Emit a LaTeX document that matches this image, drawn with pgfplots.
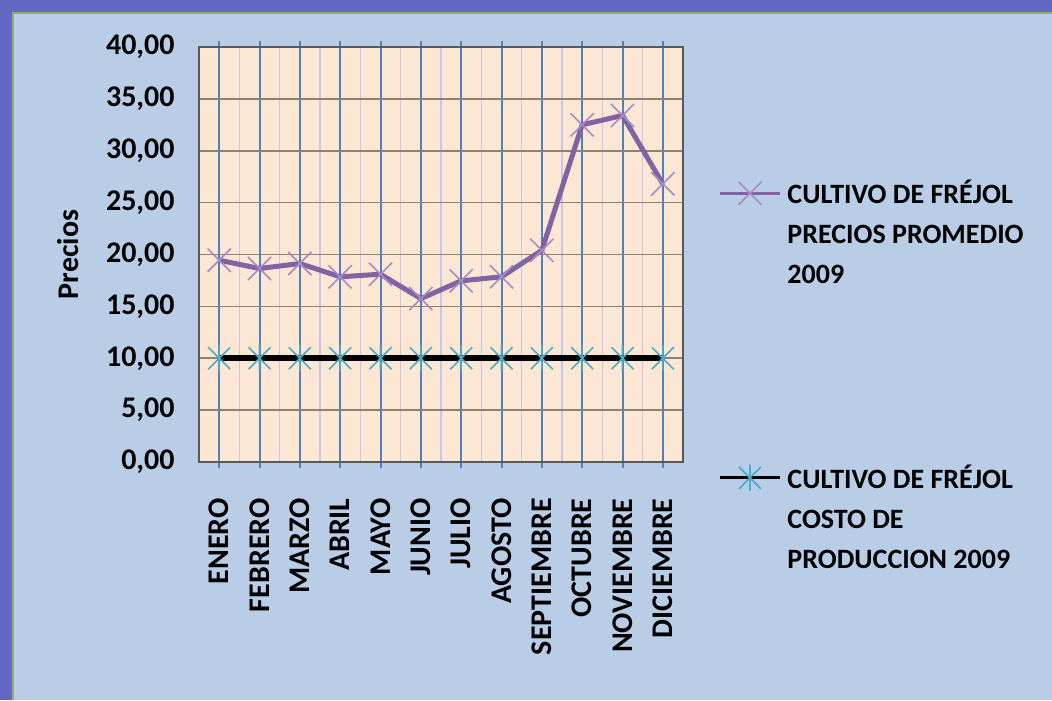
\documentclass[border=0pt]{standalone}
\usepackage{fontspec}
\setmainfont{Carlito}
\usepackage{pgfplots}
\pgfplotsset{compat=1.18}
\definecolor{bgdark}{HTML}{6466C4}
\definecolor{bglight}{HTML}{BACDE7}
\definecolor{bgedge}{HTML}{8CB070}
\definecolor{plotbg}{HTML}{FCE6D4}
\definecolor{majgrid}{HTML}{4F81BD}
\definecolor{mingrid}{HTML}{C4C4EC}
\definecolor{hgrid}{HTML}{8A8275}
\definecolor{purp}{HTML}{8064A2}
\definecolor{purpmark}{HTML}{A58CC6}
\definecolor{cyanm}{HTML}{4BACC6}
\pgfdeclareplotmark{xx}{%
  \pgfpathmoveto{\pgfqpoint{-\pgfplotmarksize}{-\pgfplotmarksize}}%
  \pgfpathlineto{\pgfqpoint{\pgfplotmarksize}{\pgfplotmarksize}}%
  \pgfpathmoveto{\pgfqpoint{-\pgfplotmarksize}{\pgfplotmarksize}}%
  \pgfpathlineto{\pgfqpoint{\pgfplotmarksize}{-\pgfplotmarksize}}%
  \pgfusepathqstroke}
\pgfdeclareplotmark{xstar}{%
  \pgfpathmoveto{\pgfqpoint{-\pgfplotmarksize}{-\pgfplotmarksize}}%
  \pgfpathlineto{\pgfqpoint{\pgfplotmarksize}{\pgfplotmarksize}}%
  \pgfpathmoveto{\pgfqpoint{-\pgfplotmarksize}{\pgfplotmarksize}}%
  \pgfpathlineto{\pgfqpoint{\pgfplotmarksize}{-\pgfplotmarksize}}%
  \pgfpathmoveto{\pgfqpoint{0pt}{-1.2\pgfplotmarksize}}%
  \pgfpathlineto{\pgfqpoint{0pt}{1.2\pgfplotmarksize}}%
  \pgfusepathqstroke}
\begin{document}
\begin{tikzpicture}
\useasboundingbox (0,0) rectangle (526pt,350pt);
\fill[bgdark] (0,0) rectangle (526pt,350pt);
\fill[bglight] (6pt,0) rectangle (526pt,344pt);
\draw[bgedge, line width=0.8pt] (6.4pt,0) -- (6.4pt,343.6pt) -- (526pt,343.6pt);
\begin{axis}[
  at={(99.5pt,119pt)}, anchor=south west,
  scale only axis, width=242pt, height=207.5pt,
  xmin=-0.5, xmax=11.5, ymin=0, ymax=40,
  axis background/.style={fill=plotbg},
  axis line style={draw=gray!70!black, line width=0.6pt},
  xtick={0,...,11},
  xticklabels={ENERO,FEBRERO,MARZO,ABRIL,MAYO,JUNIO,JULIO,AGOSTO,SEPTIEMBRE,OCTUBRE,NOVIEMBRE,DICIEMBRE},
  minor xtick={0.5,1.5,...,10.5},
  ytick={0,5,...,40},
  xmajorgrids, xminorgrids, ymajorgrids,
  major x grid style={draw=majgrid, line width=1pt},
  minor x grid style={draw=mingrid, line width=0.8pt},
  major y grid style={draw=hgrid, line width=0.8pt},
  tick align=outside,
  major tick length=3pt, minor tick length=0pt,
  xtick style={draw=majgrid, line width=1pt},
  ytick style={draw=none},
  xticklabel style={font=\fontsize{15}{18}\selectfont\bfseries, yshift=-15pt, rotate=90, anchor=east, inner sep=0pt},
  yticklabel style={font=\fontsize{15}{18}\selectfont\bfseries, anchor=east, inner sep=0pt, xshift=-9pt},
  ylabel={Precios},
  every axis y label/.style={at={(axis description cs:-0.27,0.5)}, rotate=90, anchor=center, font=\fontsize{15}{18}\selectfont\bfseries},
  /pgf/number format/.cd, fixed, fixed zerofill, precision=2, use comma, assume math mode=true,
  /pgfplots/.cd,
  legend style={at={(1.06,0.69)}, anchor=north west, draw=none, fill=none,
    font=\fontsize{14}{20}\selectfont\bfseries, row sep=129pt, column sep=3pt,
    nodes={inner sep=0pt}},
  legend cell align=left,
  legend image code/.code={\draw[mark repeat=2, mark phase=2, #1, line width=1.5pt] plot coordinates {(0pt,0pt) (15pt,0pt) (30pt,0pt)};},
]
\addplot[purp, line width=2.5pt, mark=xx, mark size=5.8pt, mark options={draw=purpmark, line width=0.8pt, solid}]
coordinates {(0,19.45) (1,18.65) (2,19.13) (3,17.85) (4,18.1) (5,15.75) (6,17.46) (7,17.85) (8,20.4) (9,32.5) (10,33.4) (11,26.8)};
\addlegendentry{\parbox[t]{125pt}{CULTIVO DE FRÉJOL\\PRECIOS PROMEDIO\\2009}}
\addplot[black, line width=3pt, mark=xstar, mark size=5.5pt, mark options={draw=cyanm, line width=0.8pt, solid}]
coordinates {(0,10) (1,10) (2,10) (3,10) (4,10) (5,10) (6,10) (7,10) (8,10) (9,10) (10,10) (11,10)};
\addlegendentry{\parbox[t]{125pt}{CULTIVO DE FRÉJOL\\COSTO DE\\PRODUCCION 2009}}
\end{axis}
\end{tikzpicture}
\end{document}
